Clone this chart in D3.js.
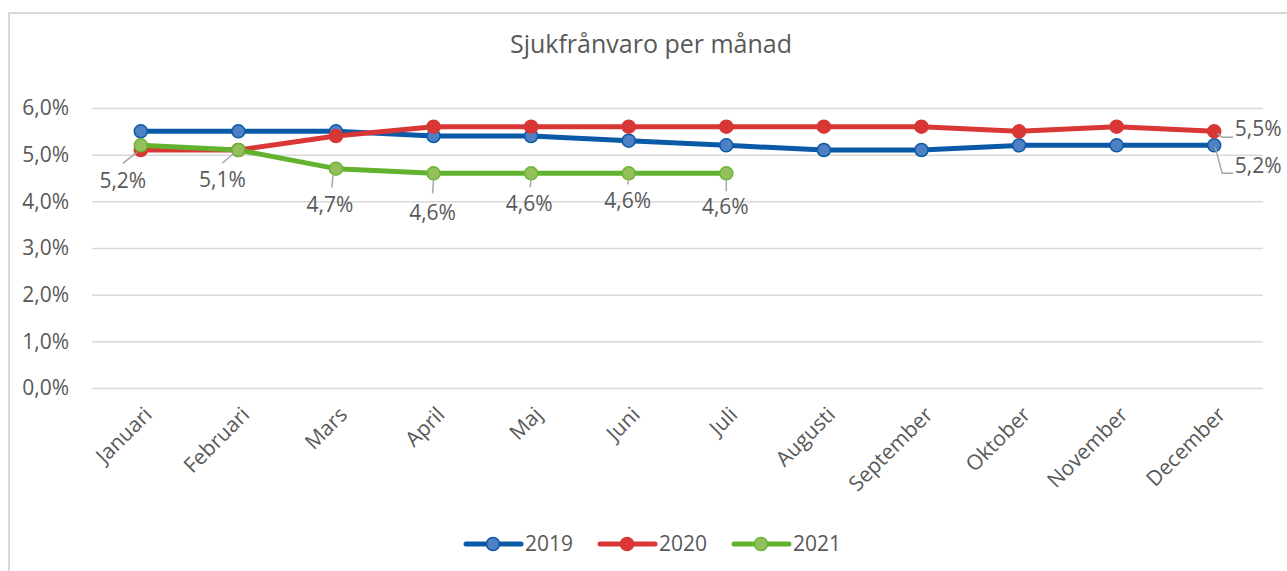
<!DOCTYPE html>
<html>
<head>
<meta charset="utf-8">
<script src="https://cdn.jsdelivr.net/npm/d3@7"></script>
<style>
  body { margin: 0; background: #fff; }
  svg text { font-family: "Open Sans", Lato, sans-serif; fill: #595959; }
</style>
</head>
<body>
<svg id="chart"></svg>
<script>
// chart data
const months = ["Januari", "Februari", "Mars", "April", "Maj", "Juni", "Juli",
                "Augusti", "September", "Oktober", "November", "December"];
const years = ["2019", "2020", "2021"];
const values2019 = [5.5, 5.5, 5.5, 5.4, 5.4, 5.3, 5.2, 5.1, 5.1, 5.2, 5.2, 5.2];
const values2020 = [5.1, 5.1, 5.4, 5.6, 5.6, 5.6, 5.6, 5.6, 5.6, 5.5, 5.6, 5.5];
const values2021 = [5.2, 5.1, 4.7, 4.6, 4.6, 4.6, 4.6];
const yTicks = [0, 1, 2, 3, 4, 5, 6];

// look of each series
const styles = [
  { line: "#0a5aa8", fill: "#5080c4", stroke: "#0a5aa8" },
  { line: "#d93636", fill: "#d93636", stroke: "#d93636" },
  { line: "#63b22f", fill: "#93c05a", stroke: "#6ab534" }
];

const W = 1287, H = 571;
const margin = { top: 108, right: 24, bottom: 183, left: 92 };
const width = W - margin.left - margin.right;
const height = H - margin.top - margin.bottom;

const svg = d3.select("#chart").attr("width", W).attr("height", H);

// outer frame (only top and left visible in reference)
svg.append("rect")
   .attr("x", 9).attr("y", 13)
   .attr("width", W).attr("height", H)
   .attr("fill", "none").attr("stroke", "#d9d9d9").attr("stroke-width", 2);

svg.append("text")
   .attr("x", 651).attr("y", 53)
   .attr("text-anchor", "middle")
   .style("font-size", "25px")
   .text("Sjukfrånvaro per månad");

const g = svg.append("g")
             .attr("transform", "translate(" + margin.left + "," + margin.top + ")");

const x = d3.scalePoint().domain(months).range([0, width]).padding(0.5);
const y = d3.scaleLinear().domain([0, 6]).range([height, 0]);

const pct = d => d3.format(".1f")(d).replace(".", ",") + "%";

// grid + y axis
const yAxis = d3.axisLeft(y).tickValues(yTicks).tickSize(-width).tickPadding(23)
                .tickFormat(pct);
g.append("g").call(yAxis)
 .call(a => a.select(".domain").remove())
 .call(a => a.selectAll(".tick line").attr("stroke", "#d9d9d9").attr("stroke-width", 1.5))
 .call(a => a.selectAll(".tick text").style("font-size", "21px").attr("fill", "#595959"));

// x axis labels
const xAxis = d3.axisBottom(x).tickSize(0).tickPadding(0);
g.append("g").attr("transform", "translate(0," + height + ")").call(xAxis)
 .call(a => a.select(".domain").remove())
 .call(a => a.selectAll(".tick text")
   .style("font-size", "21px").attr("fill", "#595959")
   .attr("text-anchor", "end")
   .attr("y", 0).attr("dy", 0)
   .attr("transform", "translate(12,28) rotate(-45)"));

const series = [values2019, values2020, values2021];
const line = d3.line().x((d, i) => x(months[i])).y(d => y(d));

series.forEach((vals, s) => {
  g.append("path").datum(vals)
   .attr("fill", "none").attr("stroke", styles[s].line)
   .attr("stroke-width", 5).attr("stroke-linejoin", "round").attr("stroke-linecap", "round")
   .attr("d", line);
});
series.forEach((vals, s) => {
  g.selectAll(".m" + s).data(vals).enter().append("circle")
   .attr("cx", (d, i) => x(months[i])).attr("cy", d => y(d)).attr("r", 6.5)
   .attr("fill", styles[s].fill).attr("stroke", styles[s].stroke).attr("stroke-width", 1.5);
});

// data labels: series, month index, label centre offset, leader path offsets
const labels = [
  { s: 2, i: 0, dx: -18, dy: 35, lead: [[-4, 7], [-18, 18]] },
  { s: 2, i: 1, dx: -16, dy: 30, lead: [[-4, 3], [-16, 13]] },
  { s: 2, i: 2, dx: -6, dy: 36, lead: [[-3, 6], [-4, 19]] },
  { s: 2, i: 3, dx: -1, dy: 39, lead: [[0, 6], [-1, 20]] },
  { s: 2, i: 4, dx: -2, dy: 30, lead: [[0, 6], [-1, 14]] },
  { s: 2, i: 5, dx: -1, dy: 27, lead: [[0, 6], [-1, 11]] },
  { s: 2, i: 6, dx: -1, dy: 33, lead: [[0, 6], [0, 18]] },
  { s: 1, i: 11, dx: 44, dy: -3, lead: [[3, 2], [8, 6], [19, 6]] },
  { s: 0, i: 11, dx: 44, dy: 20, lead: [[1, 2], [8, 28], [19, 28]] }
];
labels.forEach(l => {
  const px = x(months[l.i]), py = y(series[l.s][l.i]);
  g.append("path")
   .attr("d", d3.line()(l.lead.map(p => [px + p[0], py + p[1]])))
   .attr("fill", "none").attr("stroke", "#a6a6a6").attr("stroke-width", 1.5);
  g.append("text")
   .attr("x", px + l.dx).attr("y", py + l.dy).attr("dy", "0.35em")
   .attr("text-anchor", "middle").style("font-size", "21px")
   .text(pct(series[l.s][l.i]));
});

// legend
const legendX = [466, 600, 734];
years.forEach((yr, s) => {
  const lg = svg.append("g").attr("transform", "translate(" + legendX[s] + ",544)");
  lg.append("line").attr("x1", 0).attr("x2", 55)
    .attr("stroke", styles[s].line).attr("stroke-width", 5).attr("stroke-linecap", "round");
  lg.append("circle").attr("cx", 27).attr("r", 6.5)
    .attr("fill", styles[s].fill).attr("stroke", styles[s].stroke).attr("stroke-width", 1.5);
  lg.append("text").attr("x", 59).attr("dy", "0.35em")
    .style("font-size", "21px").text(yr);
});
</script>
</body>
</html>
